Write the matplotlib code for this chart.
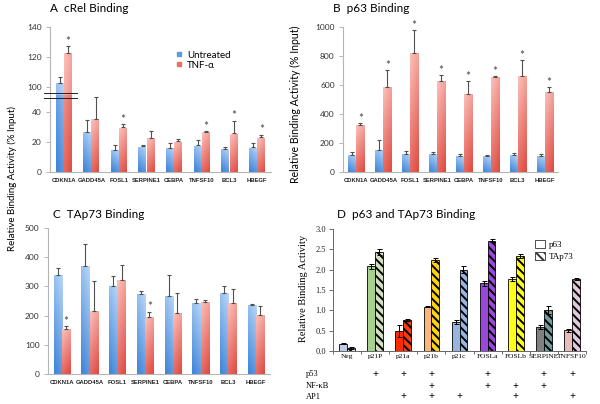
import matplotlib
matplotlib.use("Agg")
import matplotlib.pyplot as plt
import numpy as np
from matplotlib.colors import LinearSegmentedColormap
from matplotlib.lines import Line2D
from matplotlib.patches import Patch

# ---- data ----
genes = ["CDKN1A", "GADD45A", "FOSL1", "SERPINE1", "CEBPA", "TNFSF10", "BCL3", "HBEGF"]

crel_untreated = [102.7, 27, 15, 17.2, 16.3, 17.9, 15.6, 16.5]
crel_untreated_err = [3.8, 8, 2.9, 1.1, 3.1, 3.6, 1.4, 2.9]
crel_tnf = [122.9, 35.5, 30, 22.8, 20.6, 26.8, 25.9, 23.2]
crel_tnf_err = [4.5, 14.8, 2.2, 4.9, 1.5, 0.7, 8.5, 1.8]
crel_sig = [1, 0, 1, 0, 0, 1, 1, 1]

p63_untreated = [120, 154, 126, 126, 108, 108, 115, 108]
p63_untreated_err = [15, 64, 21, 9, 16, 9, 16, 14]
p63_tnf = [321, 583, 819, 628, 539, 654, 665, 553]
p63_tnf_err = [16, 121, 160, 39, 89, 9, 106, 30]
p63_sig = [1, 1, 1, 1, 1, 1, 1, 1]

tap73_untreated = [339, 371, 302, 273, 268, 244, 276, 237]
tap73_untreated_err = [24, 75, 34, 11, 71, 12, 26, 2]
tap73_tnf = [154, 217, 323, 195, 208, 248, 243, 201]
tap73_tnf_err = [10, 102, 50, 18, 69, 5, 48, 31]
tap73_sig = [1, 0, 0, 1, 0, 0, 0, 0]

sites = ["Neg", "p21P", "p21a", "p21b", "p21c", "FOSLa", "FOSLb", "SERPINE", "TNFSF10"]
site_p63 = [0.18, 2.08, 0.49, 1.09, 0.71, 1.67, 1.76, 0.58, 0.51]
site_p63_err = [0.02, 0.06, 0.14, 0.02, 0.05, 0.06, 0.05, 0.05, 0.04]
site_tap73 = [0.08, 2.43, 0.76, 2.23, 2.0, 2.71, 2.34, 1.01, 1.77]
site_tap73_err = [0.02, 0.07, 0.03, 0.05, 0.08, 0.04, 0.05, 0.1, 0.02]
p63_colors = ["#bccde3", "#a8d08d", "#ff2a00", "#f9b77a", "#98b6dd", "#9a48dc",
              "#ffff1a", "#808080", "#e8bcbb"]
tap73_colors = ["#dde6f0", "#d4e0bf", "#ff3a10", "#ffd21a", "#98b6dd", "#9a48dc",
                "#ffff1a", "#6f9b9c", "#e3c9dc"]
motif_names = ["p53", "NF-\u03baB", "AP1"]
motif_p53 = [0, 1, 1, 1, 0, 1, 0, 1, 1]
motif_nfkb = [0, 0, 0, 1, 0, 1, 1, 1, 0]
motif_ap1 = [0, 0, 1, 1, 1, 0, 1, 0, 1]

BLUE = ("#b8d6f8", "#3e84d8")
RED = ("#fbc0ba", "#df4a40")
SANS = "Lato"
SERIF = "Liberation Serif"

plt.rcParams["font.family"] = SANS
plt.rcParams["hatch.linewidth"] = 1.4


def gradient_bars(ax, bars, light, dark, left_dark):
    cmap = LinearSegmentedColormap.from_list("grad", [dark, light])
    yy, xx = np.mgrid[0:1:64j, 0:1:8j]
    side = xx if left_dark else 1 - xx
    shade = 0.75 * yy + 0.25 * side
    for bar in bars:
        x0, w, h = bar.get_x(), bar.get_width(), bar.get_height()
        im = ax.imshow(shade, cmap=cmap, extent=[x0, x0 + w, 0, h], origin="lower",
                       aspect="auto", interpolation="bilinear", zorder=2)
        im.set_clip_path(bar)
        bar.set_facecolor("none")


def excel_panel(ax, untreated, u_err, tnf, t_err, sig, ylim, yticks):
    x = np.arange(len(genes))
    w = 0.3
    b1 = ax.bar(x - w / 2, untreated, w, linewidth=0, zorder=2)
    b2 = ax.bar(x + w / 2, tnf, w, linewidth=0, zorder=2)
    gradient_bars(ax, b1, BLUE[0], BLUE[1], True)
    gradient_bars(ax, b2, RED[0], RED[1], False)
    n = len(genes)
    ax.errorbar(x - w / 2, untreated, yerr=[np.zeros(n), u_err], fmt="none",
                ecolor="#505050", elinewidth=0.8, capsize=1.5, capthick=0.8, zorder=3)
    ax.errorbar(x + w / 2, tnf, yerr=[np.zeros(n), t_err], fmt="none",
                ecolor="#505050", elinewidth=0.8, capsize=1.5, capthick=0.8, zorder=3)
    for i in range(n):
        if sig[i]:
            ax.annotate("*", (x[i] + w / 2, tnf[i] + t_err[i]), xytext=(0, -0.5),
                        textcoords="offset points", ha="center", va="bottom",
                        fontsize=8.5, color="#444444")
    ax.set_xlim(-0.5, n - 0.5)
    ax.set_ylim(*ylim)
    ax.set_yticks(yticks)
    ax.set_xticks(x, genes, fontweight="bold", fontfamily="Liberation Sans")
    for s in ["top", "right"]:
        ax.spines[s].set_visible(False)
    for s in ["left", "bottom"]:
        ax.spines[s].set_color("#b5b5b5")
        ax.spines[s].set_linewidth(0.8)
    ax.tick_params(axis="y", colors="#b5b5b5", labelcolor="#333333", length=3,
                   width=0.7, labelsize=6, pad=3)
    ax.tick_params(axis="x", length=0, labelsize=4.2, pad=4, labelcolor="#222222")


fig = plt.figure(figsize=(6, 4.04), dpi=100)

# ---- A: cRel with broken axis ----
axA = fig.add_axes([50 / 600, 1 - 172 / 404, 221 / 600, 145 / 404])
brk_lo, brk_hi = 51, 94


def fwd(v):
    v = np.asarray(v, dtype=float)
    return np.where(v >= brk_hi, v - (brk_hi - brk_lo), np.minimum(v, brk_lo))


def inv(y):
    y = np.asarray(y, dtype=float)
    return np.where(y > brk_lo, y + (brk_hi - brk_lo), y)


axA.set_yscale("function", functions=(fwd, inv))
excel_panel(axA, crel_untreated, crel_untreated_err, crel_tnf, crel_tnf_err, crel_sig,
            (0, 140), [0, 20, 40, 100, 120, 140])
for yb in [brk_lo - 1.6, brk_hi + 1.6]:
    axA.plot([-0.025, 0.122], [yb, yb], transform=axA.get_yaxis_transform(),
             color="#222222", lw=0.7, clip_on=False, zorder=5)
handles = [Line2D([], [], marker="s", ls="", ms=2.2, color="#5a9be2"),
           Line2D([], [], marker="s", ls="", ms=2.2, color="#ee6e66")]
axA.legend(handles, ["Untreated", "TNF-\u03b1"], loc="upper left",
           bbox_to_anchor=(0.55, 0.87), frameon=False, fontsize=7,
           handlelength=0.6, handletextpad=0.5, labelspacing=0.1, borderpad=0)

# ---- B: p63 ----
axB = fig.add_axes([343 / 600, 1 - 172 / 404, 215 / 600, 145 / 404])
excel_panel(axB, p63_untreated, p63_untreated_err, p63_tnf, p63_tnf_err, p63_sig,
            (0, 1000), range(0, 1001, 200))

# ---- C: TAp73 ----
axC = fig.add_axes([48 / 600, 1 - 374 / 404, 222 / 600, 146 / 404])
excel_panel(axC, tap73_untreated, tap73_untreated_err, tap73_tnf, tap73_tnf_err, tap73_sig,
            (0, 500), range(0, 501, 100))

# ---- D: p63 and TAp73 at sites ----
axD = fig.add_axes([333 / 600, 1 - 351 / 404, 253 / 600, 122 / 404])
xs = np.arange(len(sites))
w = 0.28
axD.bar(xs - w / 2, site_p63, w, color=p63_colors, edgecolor="black", linewidth=0.6, zorder=2)
axD.bar(xs + w / 2, site_tap73, w, color=tap73_colors, edgecolor="black", linewidth=0.6,
        hatch="\\\\\\\\", zorder=2)
axD.errorbar(xs - w / 2, site_p63, yerr=site_p63_err, fmt="none", ecolor="black",
             elinewidth=0.7, capsize=1.8, capthick=0.7, zorder=3)
axD.errorbar(xs + w / 2, site_tap73, yerr=site_tap73_err, fmt="none", ecolor="black",
             elinewidth=0.7, capsize=1.8, capthick=0.7, zorder=3)
axD.set_xlim(-0.5, len(sites) - 0.5)
axD.set_ylim(0, 3.0)
axD.set_yticks(np.arange(0, 3.01, 0.5), [f"{v:.1f}" for v in np.arange(0, 3.01, 0.5)],
               fontfamily=SERIF)
axD.set_xticks(xs, sites, fontfamily=SERIF)
axD.set_xticks(np.arange(-0.5, len(sites), 1), minor=True)
axD.tick_params(axis="x", which="major", length=0, labelsize=5.4, pad=2.5)
axD.tick_params(axis="x", which="minor", length=2.5, width=0.6, colors="#555555")
axD.tick_params(axis="y", length=3, width=0.6, labelsize=6, colors="#555555",
                labelcolor="#222222", pad=2)
for s in ["top", "right"]:
    axD.spines[s].set_visible(False)
for s in ["left", "bottom"]:
    axD.spines[s].set_color("#666666")
    axD.spines[s].set_linewidth(0.7)
leg_handles = [Patch(facecolor="white", edgecolor="#333333", linewidth=0.6),
               Patch(facecolor="white", edgecolor="#333333", linewidth=0.6, hatch="\\\\\\\\")]
axD.legend(leg_handles, ["p63", "TAp73"], loc="upper left",
           bbox_to_anchor=(0.78, 0.95), frameon=False, handlelength=1.1,
           handleheight=1.1, handletextpad=0.4, labelspacing=0.3, borderpad=0,
           prop={"family": SERIF, "size": 6.5})

row_y = [(351 - 374) / 122, (351 - 386) / 122, (351 - 397) / 122]
for name, flags, ry in zip(motif_names, [motif_p53, motif_nfkb, motif_ap1], row_y):
    axD.text((306 - 333) / 253, ry, name, transform=axD.transAxes, ha="left",
             va="center", fontsize=6, family=SERIF)
    for i, f in enumerate(flags):
        if f:
            axD.text(xs[i], ry, "+", transform=axD.get_xaxis_transform(), ha="center",
                     va="center", fontsize=7.5, family=SERIF, fontweight="bold")

# ---- titles and axis labels ----
fig.text(50 / 600, 1 - 9 / 404, "A  cRel Binding", fontsize=8.5, va="center")
fig.text(333 / 600, 1 - 9 / 404, "B  p63 Binding", fontsize=8.5, va="center")
fig.text(53 / 600, 1 - 214 / 404, "C  TAp73 Binding", fontsize=8.5, va="center")
fig.text(337 / 600, 1 - 214 / 404, "D  p63 and TAp73 Binding", fontsize=8.5, va="center")

fig.text(12 / 600, 1 - 179 / 404, "Relative Binding Activity (% Input)", rotation=90,
         ha="center", va="center", fontsize=7)
fig.text(295 / 600, 1 - 104 / 404, "Relative Binding Activity (% Input)", rotation=90,
         ha="center", va="center", fontsize=7.6)
fig.text(303 / 600, 1 - 288 / 404, "Relative Binding Activity", rotation=90,
         ha="center", va="center", fontsize=7.5, family=SERIF)

fig.savefig("out.png", dpi=100)
